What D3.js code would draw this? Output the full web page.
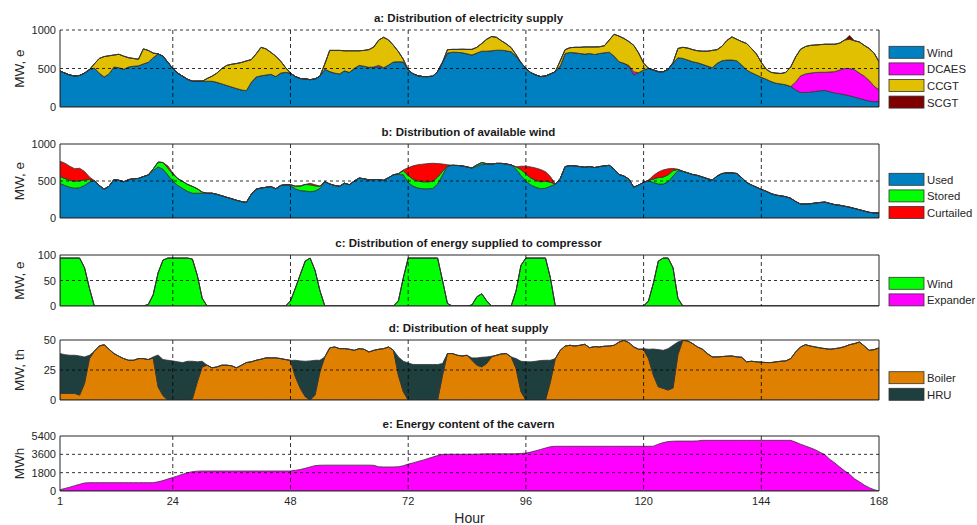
<!DOCTYPE html>
<html>
<head>
<meta charset="utf-8">
<script src="https://cdn.jsdelivr.net/npm/d3@7"></script>
<style>
  body { margin: 0; background: #fff; }
  svg { font-family: "Liberation Sans", Arial, Helvetica, sans-serif; }
</style>
</head>
<body>
<svg id="chart" width="977" height="525"></svg>
<script>
// ---- Hourly data, one week (hours 1..168) ----
const hours = d3.range(1, 169);
const hourTicks = [1, 24, 48, 72, 96, 120, 144, 168];

// a: electricity supply (MW, e)
const windSupply = [
  468,440,415,403,410,440,485,505,440,390,430,520,
  510,490,520,530,535,560,580,640,690,660,580,500,
  440,400,360,335,335,335,335,335,320,300,280,260,
  240,222,212,320,390,405,415,425,395,440,450,440,
  395,370,365,355,365,400,490,460,440,430,470,450,
  500,540,530,515,520,520,510,545,585,588,585,480,
  430,405,395,395,400,460,580,700,712,710,705,690,
  675,700,725,725,730,738,738,730,717,660,575,502,
  446,416,395,403,429,459,532,695,708,704,695,687,
  695,682,695,704,712,660,588,567,524,416,446,481,
  502,481,459,459,489,567,640,631,610,588,575,554,
  532,511,567,601,610,610,601,545,481,446,416,386,
  361,330,309,300,288,266,223,189,189,193,202,210,
  215,197,180,172,159,146,129,112,94,77,69,69
];
const dcaes = [
  0,0,0,0,0,0,0,0,0,0,0,0,
  0,0,0,0,0,0,0,0,0,0,0,0,
  0,0,0,0,0,0,0,0,0,0,0,0,
  0,0,0,0,0,0,0,0,0,0,0,0,
  0,0,0,0,0,0,0,0,0,0,0,0,
  0,0,0,0,0,20,0,0,0,0,0,0,
  0,0,0,0,0,0,0,0,0,0,0,0,
  0,0,0,0,0,0,0,0,0,0,0,0,
  0,0,0,0,0,0,0,0,0,0,0,0,
  0,0,0,0,0,0,0,0,15,40,0,0,
  0,0,0,0,0,0,0,0,0,0,0,0,
  0,0,0,0,0,0,0,0,0,0,0,0,
  0,0,0,0,0,0,100,215,240,247,246,241,
  236,258,279,309,341,354,356,328,306,268,201,154
];
const ccgt = [
  0,0,0,0,0,0,0,55,190,265,235,155,
  175,170,120,100,85,195,155,60,0,0,0,0,
  0,0,0,0,0,0,35,65,120,200,260,295,
  325,356,386,295,300,370,340,285,265,155,60,0,
  0,0,0,0,0,0,70,275,295,305,260,280,
  230,190,205,230,260,330,395,325,215,132,35,0,
  0,0,0,0,0,0,0,45,36,38,45,58,
  73,75,100,155,185,167,122,90,53,20,0,0,
  0,0,0,0,0,0,68,50,62,71,80,93,
  85,98,87,91,158,285,332,323,311,344,254,89,
  0,0,0,0,0,10,120,144,155,157,155,171,
  193,224,178,189,255,300,279,305,344,314,274,194,
  129,120,131,135,162,254,327,346,356,360,357,359,
  364,360,356,349,370,380,375,405,400,415,430,365
];
const scgt = [
  0,0,0,0,0,0,0,0,0,0,0,0,
  0,0,0,0,0,0,0,0,0,0,0,0,
  0,0,0,0,0,0,0,0,0,0,0,0,
  0,0,0,0,0,0,0,0,0,0,0,0,
  0,0,0,0,0,0,0,0,0,0,0,0,
  0,0,0,0,0,0,0,0,0,0,0,0,
  0,0,0,0,0,0,0,0,0,0,0,0,
  0,0,0,0,0,0,0,0,0,0,0,0,
  0,0,0,0,0,0,0,0,0,0,0,0,
  0,0,0,0,0,0,0,0,0,0,0,0,
  0,0,0,0,0,0,0,0,0,0,0,0,
  0,0,0,0,0,0,0,0,0,0,0,0,
  0,0,0,0,0,0,0,0,0,0,0,0,
  0,0,0,0,0,50,0,0,0,0,0,0
];

// b: available wind (MW, e) -- "Used" is windSupply; stored wind drives the compressor
const storedWind = [
  94,94,94,94,94,75,35,0,0,0,0,0,
  0,0,0,0,0,0,3,22,65,90,94,94,
  94,94,94,92,60,15,0,0,0,0,0,0,
  0,0,0,0,0,0,0,0,0,0,0,10,
  35,62,88,94,70,30,0,0,0,0,0,0,
  0,0,0,0,0,0,0,0,0,10,55,94,
  94,94,94,94,94,94,50,5,0,0,0,0,
  2,18,24,10,0,0,0,0,0,30,80,94,
  94,94,94,94,55,0,0,0,0,0,0,0,
  0,0,0,0,0,0,0,0,0,0,0,0,
  10,45,88,94,94,75,15,0,0,0,0,0,
  0,0,0,0,0,0,0,0,0,0,0,0,
  0,0,0,0,0,0,0,0,0,0,0,0,
  0,0,0,0,0,0,0,0,0,0,0,0
];
const curtailed = [
  205,207,190,168,168,115,35,0,0,0,0,0,
  0,0,0,0,0,0,0,0,0,0,30,15,
  0,0,0,0,0,0,0,0,0,0,0,0,
  0,0,0,0,0,0,0,0,0,0,0,0,
  0,0,0,20,15,0,0,0,0,0,0,0,
  0,0,0,0,0,0,0,0,0,2,10,106,
  181,221,239,246,246,181,100,15,0,0,0,0,
  0,0,0,0,0,0,0,0,0,0,45,104,
  150,165,166,128,76,0,0,0,0,0,0,0,
  0,0,0,0,0,0,0,0,0,0,0,0,
  0,49,73,97,82,28,5,0,0,0,0,0,
  0,0,0,0,0,0,0,0,0,0,0,0,
  0,0,0,0,0,0,0,0,0,0,0,0,
  0,0,0,0,0,0,0,0,0,0,0,0
];

// c: energy supplied to compressor (MW, e)
const expander = [
  0,0,0,0,0,0,0,0,0,0,0,0,
  0,0,0,0,0,0,0,0,0,0,0,0,
  0,0,0,0,0,0,0,0,0,0,0,0,
  0,0,0,0,0,0,0,0,0,0,0,0,
  0,0,0,0,0,0,0,0,0,0,0,0,
  0,0,0,0,0,0,0,0,0,0,0,0,
  0,0,0,0,0,0,0,0,0,0,0,0,
  0,0,0,0,0,0,0,0,0,0,0,0,
  0,0,0,0,0,0,0,0,0,0,0,0,
  0,0,0,0,0,0,0,0,0,0,0,0,
  0,0,0,0,0,0,0,0,0,0,0,0,
  0,0,0,0,0,0,0,0,0,0,0,0,
  0,0,0,0,0,0,0,0,0,0,0,0,
  0,0,0,0,0,0,0,0,0,0,0,0
];

// d: heat supply (MW, th)
const boiler = [
  5.5,5.5,5.5,5.5,4.1,13.8,34.5,40.6,45,46.1,42.3,38.7,
  36.5,34.5,33.1,33.1,34.5,34.5,33.7,35,11,3.6,0,0,
  0,0,0,1,15.2,27.6,29,26.8,27.6,29,29,28.5,
  26.8,29,31.2,31.8,33.1,34,35.1,35.1,35.1,34.5,33.7,33,
  19.3,9.7,2.8,0,4.1,23.5,35.9,43.4,44.2,42.8,42.8,42.3,
  41.4,42.8,42.3,40,41.4,42.3,42.8,44.2,41.4,20.7,6.9,0,
  0,0,0,0,0,0,20.7,38.7,38.7,37.3,36.7,37.3,
  33.1,29,27.6,30.4,35.9,37.3,38.4,38.7,35.9,26.2,6.9,0,
  0,0,0,0,15.2,34.5,41.4,45,45.6,45,45.6,46.4,
  43.6,44.5,44.2,44.8,45,45.6,48.3,49.7,47.8,44.2,42.3,42,
  34.5,20.7,11,9.7,8.3,10,38,49.7,49.2,47,44.2,42.3,
  38.7,35.9,35.9,36.2,36.5,36.7,35.9,35.6,31.8,32.3,31.8,31.5,
  31.2,31.2,31.8,32.3,32.6,34.5,40,44.2,46.1,45,44.2,43.4,
  42.8,42.3,42.8,43.4,44.5,46.1,47,48.3,45,41.4,42,43.4
];
const hru = [
  33.2,32.3,31.8,31.8,32.6,22.1,2.8,0,0,0,0,0,
  0,0,0,0,0,0,0,0.9,26.5,30.1,33.1,32.6,
  31.8,31.2,32.3,31.3,16.6,4.7,0,0,0,0,0,0,
  0,0,0,0,0,0,0,0,0,0,0,0,
  13.8,22.9,29.5,32.6,29,9.6,0,0,0,0,0,0,
  0,0,0,0,0,0,0,0,0,15.2,25.4,30.9,
  29.6,29.6,29.6,29.6,29.6,29.6,9.7,0,0,0,0,0,
  2,6.1,8,5.5,0.6,0,0,0,0,8.3,25.4,31.8,
  31.8,32.3,32.9,33.1,17.9,0,0,0,0,0,0,0,
  0,0,0,0,0,0,0,0,0,0,0,0.8,
  7.8,21.8,31,31.7,34.5,35.6,10.3,0,0,0,0,0,
  0,0,0,0,0,0,0,0,0,0,0,0,
  0,0,0,0,0,0,0,0,0,0,0,0,
  0,0,0,0,0,0,0,0,0,0,0,0
];

// e: energy content of the cavern (MWh)
const cavern = [
  131,250,380,520,660,790,818,818,818,818,818,818,
  818,818,818,818,818,818,818,818,900,1020,1180,1330,
  1480,1640,1790,1900,1950,1964,1964,1964,1964,1964,1964,1964,
  1964,1964,1964,1964,1964,1964,1964,1964,1964,1964,1964,1970,
  2030,2110,2230,2360,2490,2530,2540,2540,2540,2540,2540,2540,
  2540,2540,2540,2540,2520,2370,2360,2360,2360,2380,2480,2640,
  2760,2900,3030,3180,3330,3480,3600,3610,3610,3610,3610,3610,
  3610,3620,3640,3650,3650,3650,3650,3650,3650,3660,3690,3720,
  3820,3950,4080,4220,4350,4390,4390,4390,4390,4390,4390,4390,
  4390,4390,4390,4390,4390,4390,4390,4390,4390,4390,4390,4390,
  4390,4400,4600,4750,4850,4890,4900,4900,4900,4900,4920,4975,
  4975,4975,4975,4975,4975,4975,4975,4975,4975,4975,4975,4975,
  4975,4975,4975,4975,4975,4975,4800,4600,4420,4250,4050,3800,
  3550,3100,2750,2350,1980,1650,1200,900,580,330,130,0
];

// ---- Panel definitions ----
const panels = [
  {
    title: "a: Distribution of electricity supply", ylabel: "MW, e",
    top: 30, bottom: 107, max: 1000, ticks: [0, 500, 1000], grid: [500, 1000],
    openTop: true,
    series: [
      { name: "Wind",  values: windSupply, color: "#0080c0" },
      { name: "DCAES", values: dcaes,      color: "#ff00ff" },
      { name: "CCGT",  values: ccgt,       color: "#e0c000" },
      { name: "SCGT",  values: scgt,       color: "#800000" }
    ],
    legendY: 52.3
  },
  {
    title: "b: Distribution of available wind", ylabel: "MW, e",
    top: 144, bottom: 218, max: 1000, ticks: [0, 500, 1000], grid: [500],
    series: [
      { name: "Used",      values: windSupply, color: "#0080c0" },
      { name: "Stored",    values: storedWind, color: "#00ff00" },
      { name: "Curtailed", values: curtailed,  color: "#ff0000" }
    ],
    legendY: 179.3
  },
  {
    title: "c: Distribution of energy supplied to compressor", ylabel: "MW, e",
    top: 255, bottom: 306, max: 100, ticks: [0, 50, 100], grid: [50],
    series: [
      { name: "Wind",     values: storedWind, color: "#00ff00" },
      { name: "Expander", values: expander,   color: "#ff00ff" }
    ],
    legendY: 283.3
  },
  {
    title: "d: Distribution of heat supply", ylabel: "MW, th",
    top: 340, bottom: 400, max: 50, ticks: [0, 25, 50], grid: [25],
    series: [
      { name: "Boiler", values: boiler, color: "#e08000" },
      { name: "HRU",    values: hru,    color: "#1f3f3f" }
    ],
    legendY: 377.7
  },
  {
    title: "e: Energy content of the cavern", ylabel: "MWh",
    top: 436, bottom: 491, max: 5400, ticks: [0, 1800, 3600, 5400], grid: [1800, 3600],
    series: [
      { name: "Cavern", values: cavern, color: "#ff00ff" }
    ],
    legendY: null
  }
];

const svg = d3.select("#chart");
const left = 60, right = 879;
const x = d3.scaleLinear().domain([1, 168]).range([left, right]);
const vGrid = [24, 48, 72, 96, 120, 144];
const legendStep = 16.6;

panels.forEach((p, pi) => {
  const y = d3.scaleLinear().domain([0, p.max]).range([p.bottom, p.top]);
  const g = svg.append("g");

  const clipId = "clip" + pi;
  svg.append("clipPath").attr("id", clipId)
    .append("rect")
    .attr("x", left).attr("y", p.top)
    .attr("width", right - left).attr("height", p.bottom - p.top);

  // stacked areas
  const keys = p.series.map(s => s.name);
  const rows = hours.map((h, i) => {
    const r = { hour: h };
    p.series.forEach(s => { r[s.name] = s.values[i]; });
    return r;
  });
  const stacked = d3.stack().keys(keys)(rows);
  const area = d3.area()
    .x(d => x(d.data.hour))
    .y0(d => y(d[0]))
    .y1(d => y(d[1]));

  g.append("g").attr("clip-path", `url(#${clipId})`)
    .selectAll("path")
    .data(stacked)
    .join("path")
    .attr("d", area)
    .attr("fill", (d, i) => p.series[i].color)
    .attr("stroke", "#333")
    .attr("stroke-width", 0.8)
    .attr("stroke-linejoin", "round");

  // grid lines on top of the areas
  g.selectAll(".vg").data(vGrid).join("line")
    .attr("x1", d => x(d)).attr("x2", d => x(d))
    .attr("y1", p.top).attr("y2", p.bottom)
    .attr("stroke", "#000").attr("stroke-width", 0.8)
    .attr("stroke-dasharray", "4,3");
  g.selectAll(".hg").data(p.grid).join("line")
    .attr("x1", left).attr("x2", right)
    .attr("y1", d => y(d)).attr("y2", d => y(d))
    .attr("stroke", "#000").attr("stroke-width", 0.8)
    .attr("stroke-dasharray", "3,3");

  // frame (panel a shows its 1000 grid line in place of a solid top edge)
  const frame = d3.path();
  if (p.openTop) {
    frame.moveTo(left, p.top);
    frame.lineTo(left, p.bottom);
    frame.lineTo(right, p.bottom);
    frame.lineTo(right, p.top);
  } else {
    frame.rect(left, p.top, right - left, p.bottom - p.top);
  }
  g.append("path")
    .attr("d", frame.toString())
    .attr("fill", "none").attr("stroke", "#262626").attr("stroke-width", 1);

  // y axis ticks
  g.selectAll(".yt").data(p.ticks).join("text")
    .attr("x", 56).attr("y", d => y(d) + 4)
    .attr("text-anchor", "end")
    .attr("font-size", 11)
    .attr("fill", "#262626")
    .text(d => d);

  // y axis title
  g.append("text")
    .attr("transform", `translate(24,${(p.top + p.bottom) / 2}) rotate(-90)`)
    .attr("text-anchor", "middle")
    .attr("font-size", 13.5)
    .attr("fill", "#262626")
    .text(p.ylabel);

  // panel title
  g.append("text")
    .attr("x", (left + right) / 2 - 1)
    .attr("y", p.top - 8)
    .attr("text-anchor", "middle")
    .attr("font-size", 11.5)
    .attr("font-weight", "bold")
    .attr("fill", "#1a1a1a")
    .text(p.title);

  // legend
  if (p.legendY !== null) {
    const lg = g.append("g");
    p.series.forEach((s, i) => {
      const cy = p.legendY + i * legendStep;
      lg.append("rect")
        .attr("x", 889).attr("y", cy - 6)
        .attr("width", 35).attr("height", 12)
        .attr("fill", s.color).attr("stroke", "#333").attr("stroke-width", 0.8);
      lg.append("text")
        .attr("x", 927).attr("y", cy + 4.5)
        .attr("font-size", 11.3)
        .attr("fill", "#262626")
        .text(s.name);
    });
  }

  // hour axis on the last panel
  if (pi === panels.length - 1) {
    g.selectAll(".xt").data(hourTicks).join("text")
      .attr("x", d => x(d)).attr("y", p.bottom + 14)
      .attr("text-anchor", "middle")
      .attr("font-size", 11)
      .attr("fill", "#262626")
      .text(d => d);
    g.append("text")
      .attr("x", (left + right) / 2)
      .attr("y", p.bottom + 32)
      .attr("text-anchor", "middle")
      .attr("font-size", 14)
      .attr("fill", "#262626")
      .text("Hour");
  }
});
</script>
</body>
</html>
